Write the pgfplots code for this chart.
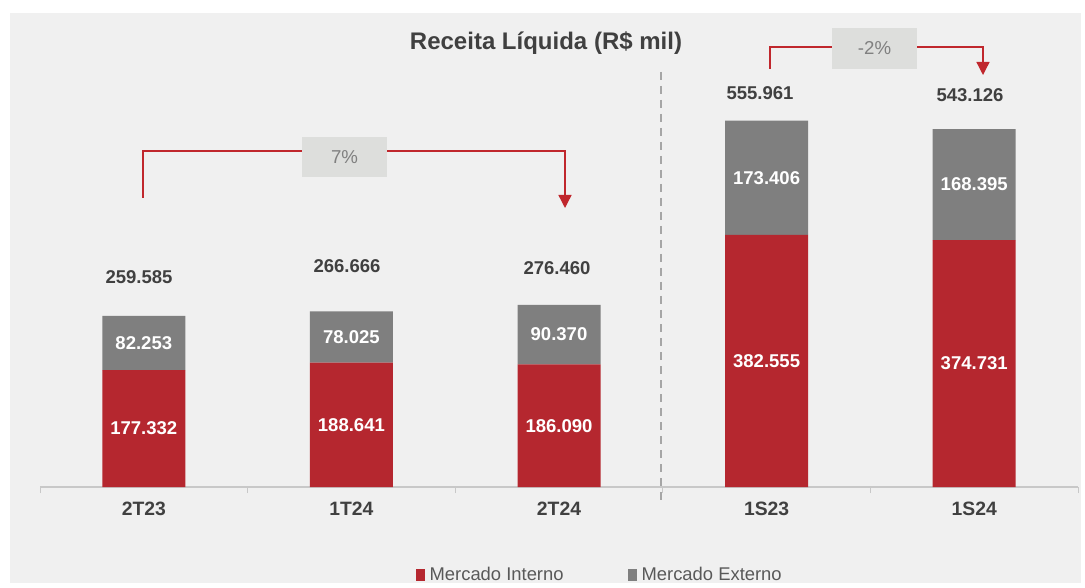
\documentclass[border=0pt]{standalone}
\usepackage{pgfplots}
\pgfplotsset{compat=1.18}
\usepackage{fontspec}
\setmainfont{Liberation Sans}
\usetikzlibrary{arrows.meta}
\definecolor{redbar}{HTML}{B5272F}
\definecolor{graybar}{HTML}{7F7F7F}
\definecolor{bg}{HTML}{F0F0F0}
\definecolor{txt}{HTML}{404040}
\definecolor{arr}{HTML}{C0272D}
\definecolor{boxc}{HTML}{DDDEDC}
\definecolor{boxt}{HTML}{808080}
\definecolor{axisc}{HTML}{C8C8C8}
\definecolor{legt}{HTML}{595959}
\definecolor{dashc}{HTML}{A6A6A6}
\tikzset{lbl/.style={text=white, font=\fontsize{13.9pt}{16pt}\selectfont\bfseries},
  tot/.style={text=txt, font=\fontsize{13.9pt}{16pt}\selectfont\bfseries}}
\begin{document}
\begin{tikzpicture}
\begin{scope}[x=0.75pt,y=-0.75pt]
\useasboundingbox (0,0) rectangle (1085,583);
\fill[white] (0,0) rectangle (1085,583);
\fill[bg] (10,13) rectangle (1081,583);
\end{scope}
\begin{axis}[
  at={(30pt,-365.25pt)}, anchor=south west,
  scale only axis, width=778.5pt, height=346pt,
  xmin=-0.5, xmax=4.5, ymin=0, ymax=700000,
  clip=false,
  ybar stacked, bar width=62.25pt,
  axis x line*=bottom, axis y line=none,
  x axis line style={-, draw=axisc, line width=1.2pt},
  xtick={0,1,2,3,4},
  xticklabels={2T23,1T24,2T24,1S23,1S24},
  major tick length=0pt,
  xticklabel style={font=\fontsize{14.5pt}{16pt}\selectfont\bfseries, text=txt, yshift=-7.5pt},
  extra x ticks={-0.5,0.5,1.5,2.5,3.5,4.5},
  extra x tick labels={},
  extra x tick style={major tick length=4.5pt, tick align=outside, tick style={draw=axisc, line width=0.75pt}},
  legend style={at={(0.5395,-0.19)}, anchor=center, draw=none, fill=none,
    legend columns=2, font=\fontsize{13.8pt}{15pt}\selectfont, text=legt,
    /tikz/every even column/.append style={column sep=46pt}},
  legend image code/.code={\fill[#1] (0pt,-4.5pt) rectangle (7pt,4.5pt); \path (8.5pt,0pt);},
]
\addplot[fill=redbar, draw=none] coordinates {(0,177332) (1,188641) (2,186090) (3,382555) (4,374731)};
\addplot[fill=graybar, draw=none] coordinates {(0,82253) (1,78025) (2,90370) (3,173406) (4,168395)};
\legend{Mercado Interno, Mercado Externo}
\coordinate (r0) at (axis cs:0,88666);
\coordinate (r1) at (axis cs:1,94320);
\coordinate (r2) at (axis cs:2,93045);
\coordinate (r3) at (axis cs:3,191278);
\coordinate (r4) at (axis cs:4,187366);
\coordinate (g0) at (axis cs:0,218458);
\coordinate (g1) at (axis cs:1,227654);
\coordinate (g2) at (axis cs:2,231275);
\coordinate (g3) at (axis cs:3,469258);
\coordinate (g4) at (axis cs:4,458928);
\end{axis}
\node[lbl] at (r0) {177.332};
\node[lbl] at (r1) {188.641};
\node[lbl] at (r2) {186.090};
\node[lbl] at (r3) {382.555};
\node[lbl] at (r4) {374.731};
\node[lbl] at (g0) {82.253};
\node[lbl] at (g1) {78.025};
\node[lbl] at (g2) {90.370};
\node[lbl] at (g3) {173.406};
\node[lbl] at (g4) {168.395};
\begin{scope}[x=0.75pt,y=-0.75pt]
\node[text=txt, font=\fontsize{18pt}{20pt}\selectfont\bfseries] at (546,43) {Receita Líquida (R\$ mil)};
\node[tot] at (139,277) {259.585};
\node[tot] at (347,266) {266.666};
\node[tot] at (557,268) {276.460};
\node[tot] at (760,93) {555.961};
\node[tot] at (970,95) {543.126};
\draw[dashc, line width=1.5pt, dash pattern=on 6pt off 4.5pt] (661,72) -- (661,503);
\draw[arr, line width=1pt, -{Triangle[width=9.75pt,length=9.75pt]}] (143,198) -- (143,151) -- (565,151) -- (565,208);
\fill[boxc] (302,137) rectangle (387,177);
\node[text=boxt, font=\fontsize{14pt}{16pt}\selectfont] at (344.5,157) {7\%};
\draw[arr, line width=1pt, -{Triangle[width=9.75pt,length=9.75pt]}] (770,69) -- (770,47) -- (983,47) -- (983,75);
\fill[boxc] (832,28) rectangle (917,69);
\node[text=boxt, font=\fontsize{14pt}{16pt}\selectfont] at (874.5,48.5) {-2\%};
\end{scope}
\end{tikzpicture}
\end{document}
